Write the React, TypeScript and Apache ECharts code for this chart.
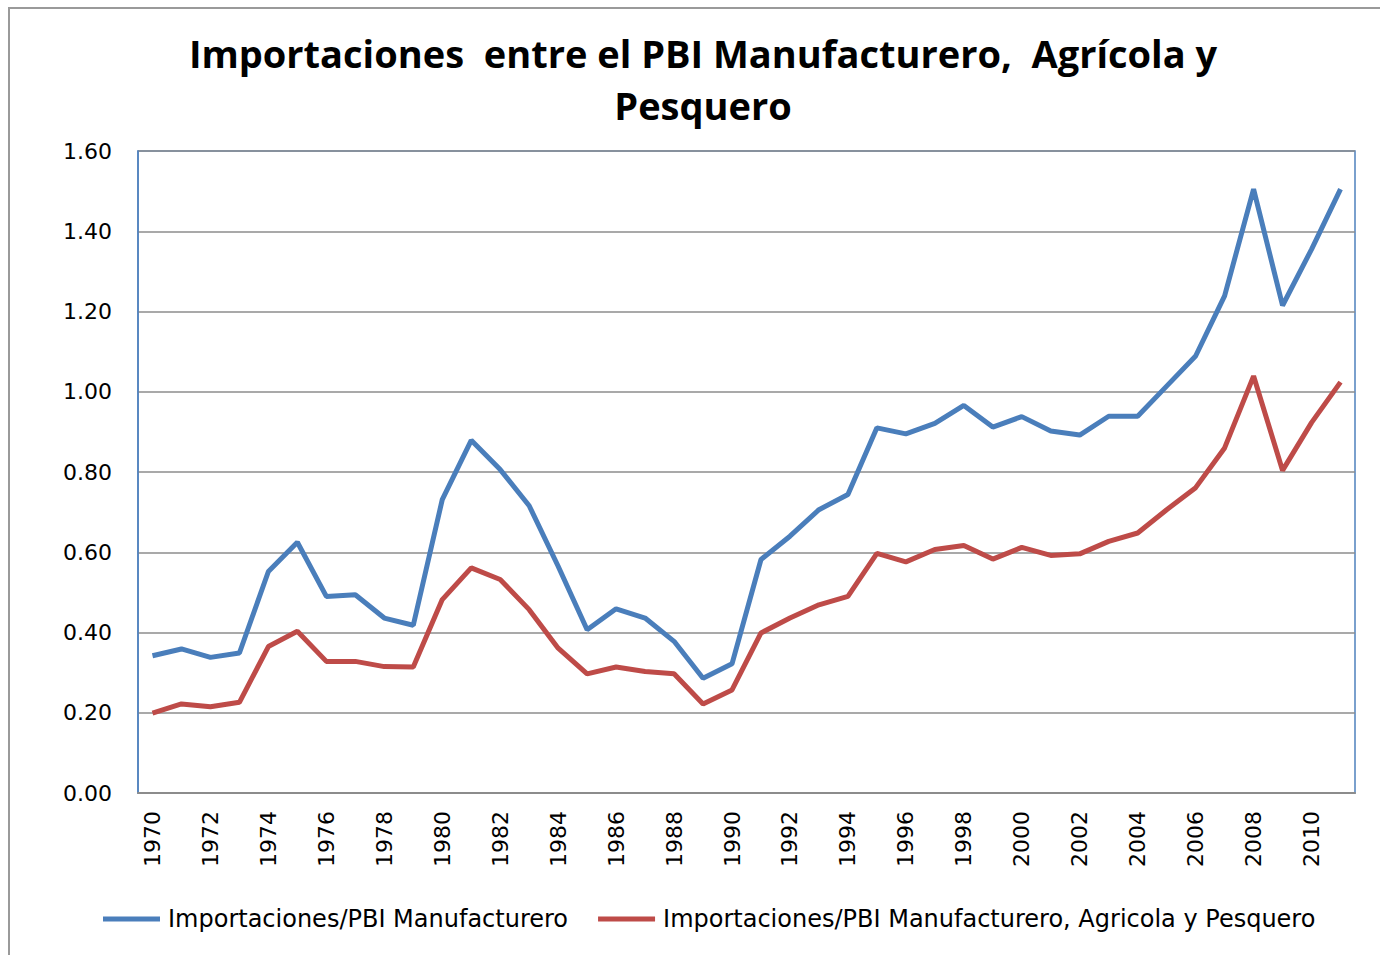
import React, { useEffect, useRef } from "react";
import * as echarts from "echarts";

const years = [
  "1970","1971","1972","1973","1974","1975","1976","1977","1978","1979",
  "1980","1981","1982","1983","1984","1985","1986","1987","1988","1989",
  "1990","1991","1992","1993","1994","1995","1996","1997","1998","1999",
  "2000","2001","2002","2003","2004","2005","2006","2007","2008","2009",
  "2010","2011",
];

const manufacturero = [
  0.342, 0.359, 0.338, 0.349, 0.552, 0.625, 0.490, 0.494, 0.436, 0.418,
  0.731, 0.879, 0.806, 0.716, 0.565, 0.407, 0.459, 0.436, 0.378, 0.286,
  0.322, 0.582, 0.640, 0.706, 0.744, 0.910, 0.895, 0.921, 0.966, 0.912,
  0.938, 0.902, 0.892, 0.939, 0.939, 1.014, 1.089, 1.239, 1.505, 1.215,
  1.355, 1.505,
];

const manufAgriPesq = [
  0.199, 0.222, 0.215, 0.226, 0.365, 0.403, 0.328, 0.328, 0.315, 0.314,
  0.482, 0.561, 0.532, 0.457, 0.361, 0.297, 0.314, 0.303, 0.297, 0.222,
  0.257, 0.399, 0.436, 0.469, 0.490, 0.597, 0.576, 0.607, 0.617, 0.583,
  0.612, 0.592, 0.596, 0.627, 0.648, 0.706, 0.761, 0.860, 1.039, 0.804,
  0.923, 1.024,
];

const seriesNames = [
  "Importaciones/PBI Manufacturero",
  "Importaciones/PBI Manufacturero, Agricola y Pesquero",
];

const titleText = "Importaciones  entre el PBI Manufacturero,  Agrícola y\nPesquero";

export default function App() {
  const ref = useRef<HTMLDivElement>(null);
  useEffect(() => {
    if (!ref.current) return;
    const chart = echarts.init(ref.current, null, { renderer: "svg" });
    chart.setOption({
      animation: false,
      backgroundColor: "#ffffff",
      title: {
        text: titleText,
        left: 703,
        top: 27,
        padding: 0,
        textAlign: "center",
        textStyle: {
          fontFamily: "Open Sans",
          fontWeight: "bold",
          fontSize: 38,
          lineHeight: 52,
          color: "#000000",
        },
      },
      graphic: [
        {
          type: "rect",
          shape: { x: 9, y: 8, width: 1500, height: 1100 },
          style: { fill: "none", stroke: "#9a9a9a", lineWidth: 2 },
          silent: true,
        },
      ],
      legend: {
        left: 103,
        top: 907,
        padding: 0,
        itemWidth: 57,
        itemHeight: 5,
        itemGap: 30,
        icon: "rect",
        textStyle: {
          fontFamily: "DejaVu Sans",
          fontSize: 24,
          color: "#000000",
          padding: [0, 0, 0, 3],
        },
        data: seriesNames,
      },
      grid: {
        left: 138,
        top: 151,
        width: 1217,
        height: 642,
        show: true,
        borderColor: "#4F81BD",
        borderWidth: 1.5,
        containLabel: false,
      },
      xAxis: {
        type: "category",
        data: years,
        boundaryGap: true,
        axisLine: { show: true, lineStyle: { color: "#8c8c8c", width: 2 } },
        axisTick: { show: false },
        axisLabel: {
          interval: 1,
          rotate: 90,
          margin: 18,
          fontFamily: "DejaVu Sans",
          fontSize: 22,
          color: "#000000",
        },
      },
      yAxis: {
        type: "value",
        min: 0,
        max: 1.6,
        interval: 0.2,
        axisLine: { show: true, lineStyle: { color: "#4F81BD", width: 1.5 } },
        axisTick: { show: false },
        axisLabel: {
          margin: 26,
          fontFamily: "DejaVu Sans",
          fontSize: 22,
          color: "#000000",
          formatter: (v: number) => v.toFixed(2),
        },
        splitLine: { show: true, lineStyle: { color: "#8c8c8c", width: 1.5 } },
      },
      series: [
        {
          name: seriesNames[0],
          type: "line",
          data: manufacturero,
          showSymbol: false,
          symbol: "none",
          lineStyle: { color: "#4A7EBB", width: 5 },
          itemStyle: { color: "#4A7EBB" },
        },
        {
          name: seriesNames[1],
          type: "line",
          data: manufAgriPesq,
          showSymbol: false,
          symbol: "none",
          lineStyle: { color: "#BE4B48", width: 5 },
          itemStyle: { color: "#BE4B48" },
        },
      ],
    });
    return () => chart.dispose();
  }, []);
  return (
    <div
      ref={ref}
      style={{ position: "absolute", left: 0, top: 0, width: 1380, height: 955 }}
    />
  );
}
